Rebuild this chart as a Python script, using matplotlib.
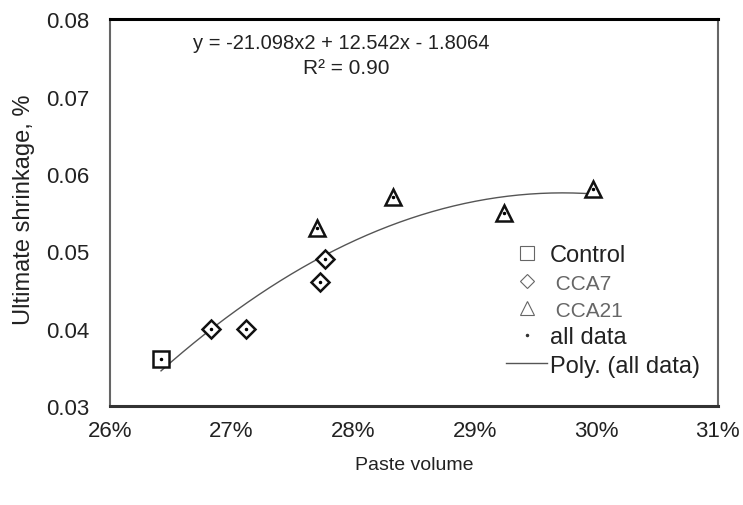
import numpy as np
import matplotlib
matplotlib.use("Agg")
import matplotlib.pyplot as plt
from matplotlib.lines import Line2D

plt.rcParams['font.family'] = ['Liberation Sans', 'DejaVu Sans']

# datos (volumen de pasta en fraccion, retraccion en %)
control_x = [0.2642]
control_y = [0.036]
cca7_x = [0.2683, 0.2712, 0.2773, 0.2777]
cca7_y = [0.040, 0.040, 0.046, 0.049]
cca21_x = [0.2770, 0.2833, 0.2924, 0.2997]
cca21_y = [0.053, 0.057, 0.055, 0.058]
poly_coef = [-21.098, 12.542, -1.8064]

x_ticks = [0.26, 0.27, 0.28, 0.29, 0.30, 0.31]
x_labels = ['26%', '27%', '28%', '29%', '30%', '31%']
y_ticks = [0.03, 0.04, 0.05, 0.06, 0.07, 0.08]

fig = plt.figure(figsize=(7.43, 5.06), dpi=100)
ax = fig.add_axes([0.148, 0.196, 0.818, 0.764])

# linea de tendencia polinomica
all_x = control_x + cca7_x + cca21_x
all_y = control_y + cca7_y + cca21_y
xs = np.linspace(min(all_x), max(all_x), 200)
ax.plot(xs, np.polyval(poly_coef, xs), color='#555555', lw=1.0, zorder=2)

mk = dict(ls='none', mfc='white', mec='#111111', mew=1.8, zorder=3)
ax.plot(control_x, control_y, marker='s', ms=11, **mk)
ax.plot(cca7_x, cca7_y, marker='D', ms=9, **mk)
ax.plot(cca21_x, cca21_y, marker='^', ms=12, **mk)
ax.plot(all_x, all_y, ls='none', marker='.', ms=3, color='black', zorder=4)

ax.set_xlim(0.26, 0.31)
ax.set_ylim(0.03, 0.08)
ax.set_xticks(x_ticks)
ax.set_xticklabels(x_labels)
ax.set_yticks(y_ticks)
ax.set_yticklabels(['%.2f' % v for v in y_ticks])
ax.tick_params(length=0, labelsize=16, colors='#222222')
ax.tick_params(axis='x', pad=10)
ax.tick_params(axis='y', pad=15)

ax.spines['top'].set_linewidth(2.2)
ax.spines['top'].set_color('black')
ax.spines['bottom'].set_linewidth(2.2)
ax.spines['bottom'].set_color('#333333')
for s in ['left', 'right']:
    ax.spines[s].set_linewidth(1.5)
    ax.spines[s].set_color('#666666')

fig.text(0.032, 0.585, 'Ultimate shrinkage, %', rotation=90, ha='center', va='center',
         fontsize=17, color='#222222')
fig.text(0.558, 0.080, 'Paste volume', ha='center', va='center', fontsize=14, color='#222222')

ax.text(0.2790, 0.0770, 'y = -21.098x2 + 12.542x - 1.8064', ha='center', va='center',
        fontsize=14.5, color='#222222')
ax.text(0.2794, 0.0738, 'R² = 0.90', ha='center', va='center', fontsize=15, color='#222222')

lg = dict(ls='none', mfc='white', mec='#666666', mew=0.8)
handles = [
    Line2D([], [], marker='s', ms=10, **lg),
    Line2D([], [], marker='D', ms=7, **lg),
    Line2D([], [], marker='^', ms=10, **lg),
    Line2D([], [], ls='none', marker='.', ms=3, color='#333333'),
    Line2D([], [], color='#555555', lw=1.0),
]
labels = ['Control', ' CCA7', ' CCA21', 'all data', 'Poly. (all data)']
leg = ax.legend(handles, labels, loc='upper left', bbox_to_anchor=(506 / 743, 1 - 245 / 506),
                bbox_transform=fig.transFigure, frameon=False, fontsize=17,
                borderpad=0, borderaxespad=0, handlelength=1.75, handletextpad=0.12,
                labelspacing=0.27)
for i, t in enumerate(leg.get_texts()):
    t.set_color('#222222')
    if i in (1, 2):
        t.set_color('#666666')
        t.set_fontsize(15)

fig.savefig('out.png', dpi=100)
